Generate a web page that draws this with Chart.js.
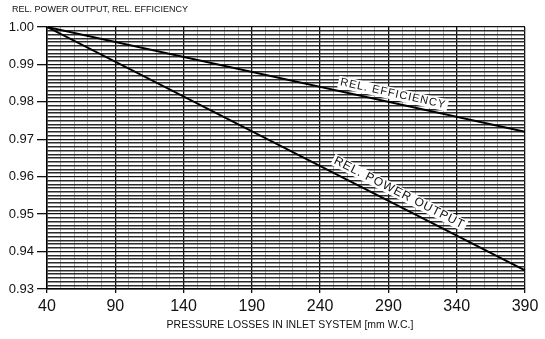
<!DOCTYPE html>
<html>
<head>
<meta charset="utf-8">
<script src="https://cdn.jsdelivr.net/npm/chart.js@4"></script>
<style>
  html, body { margin: 0; padding: 0; background: #fff; }
  #wrap { width: 545px; height: 339px; position: relative; }
</style>
</head>
<body>
<div id="wrap"><canvas id="lossChart"></canvas></div>
<script>
// valores
const pressureLoss = [40, 390];
const relEfficiency = [1.000, 0.972];
const relPowerOutput = [1.000, 0.935];
const xTickLabels = [40, 90, 140, 190, 240, 290, 340, 390];
const yTickLabels = [0.93, 0.94, 0.95, 0.96, 0.97, 0.98, 0.99, 1.00];
const lineLabels = ["REL. EFFICIENCY", "REL. POWER OUTPUT"];
const yTitle = "REL. POWER OUTPUT, REL. EFFICIENCY";
const xTitle = "PRESSURE LOSSES IN INLET SYSTEM [mm W.C.]";

const isMajorY = v => Math.round(v * 1000) % 10 === 0;
const isMajorX = v => xTickLabels.includes(Math.round(v));

// textos sobre as linhas e títulos
const textPlugin = {
  id: "textPlugin",
  afterDatasetsDraw(chart) {
    const ctx = chart.ctx;
    const xs = chart.scales.x, ys = chart.scales.y;
    const placements = [
      { ds: 0, at: 292, off: 9, font: "11px 'Liberation Sans', Arial" },
      { ds: 1, at: 294, off: 12, font: "12px 'Liberation Sans', Arial" }
    ];
    placements.forEach((p, i) => {
      const data = chart.data.datasets[p.ds].data;
      const a = data[0], b = data[data.length - 1];
      const x1 = xs.getPixelForValue(a.x), y1 = ys.getPixelForValue(a.y);
      const x2 = xs.getPixelForValue(b.x), y2 = ys.getPixelForValue(b.y);
      const ang = Math.atan2(y2 - y1, x2 - x1);
      const t = (p.at - a.x) / (b.x - a.x);
      const px = x1 + (x2 - x1) * t, py = y1 + (y2 - y1) * t;
      ctx.save();
      ctx.translate(px + Math.sin(ang) * p.off, py - Math.cos(ang) * p.off);
      ctx.rotate(ang);
      ctx.font = p.font;
      ctx.letterSpacing = "1px";
      ctx.textAlign = "center";
      ctx.textBaseline = "middle";
      const w = ctx.measureText(lineLabels[i]).width;
      ctx.fillStyle = "#fff";
      ctx.fillRect(-w / 2 - 2, -6, w + 4, 12);
      ctx.fillStyle = "#111";
      ctx.fillText(lineLabels[i], 0, 0);
      ctx.restore();
    });
  },
  afterDraw(chart) {
    const ctx = chart.ctx;
    ctx.save();
    ctx.fillStyle = "#111";
    ctx.textBaseline = "middle";
    ctx.font = "9px 'Liberation Sans', Arial";
    ctx.textAlign = "left";
    ctx.fillText(yTitle, 12, 10);
    ctx.font = "10.5px 'Liberation Sans', Arial";
    ctx.textAlign = "center";
    ctx.fillText(xTitle, 290, 325);
    ctx.restore();
  }
};

const chartCtx = document.getElementById("lossChart").getContext("2d");
const lossChart = new Chart(chartCtx, {
  type: "line",
  data: {
    datasets: [{
      label: lineLabels[0],
      data: pressureLoss.map((x, i) => ({ x: x, y: relEfficiency[i] })),
      borderColor: "#000",
      borderWidth: 2,
      pointRadius: 0,
      tension: 0
    }, {
      label: lineLabels[1],
      data: pressureLoss.map((x, i) => ({ x: x, y: relPowerOutput[i] })),
      borderColor: "#000",
      borderWidth: 2,
      pointRadius: 0,
      tension: 0
    }]
  },
  options: {
    responsive: true,
    maintainAspectRatio: false,
    animation: false,
    layout: { padding: { left: 0, right: 20, top: 27, bottom: 0 } },
    plugins: {
      legend: { display: false },
      tooltip: { enabled: false }
    },
    scales: {
      x: {
        type: "linear",
        min: xTickLabels[0],
        max: xTickLabels[xTickLabels.length - 1],
        afterFit: s => { s.height = 50; },
        border: { display: true, color: "#000", width: 1.5 },
        grid: {
          color: c => isMajorX(c.tick.value) ? "#111" : "#999",
          lineWidth: c => isMajorX(c.tick.value) ? 1.3 : 0.8,
          tickLength: 4,
          tickColor: c => isMajorX(c.tick.value) ? "#111" : "rgba(0,0,0,0)"
        },
        ticks: {
          stepSize: 10,
          autoSkip: false,
          maxRotation: 0,
          padding: 4,
          color: "#111",
          font: { family: "'Liberation Sans Narrow', 'Liberation Sans', Arial", size: 16 },
          callback: v => isMajorX(v) ? String(Math.round(v)) : ""
        }
      },
      y: {
        min: yTickLabels[0],
        max: yTickLabels[yTickLabels.length - 1],
        afterFit: s => { s.width = 47; },
        border: { display: true, color: "#000", width: 1.5 },
        grid: {
          color: c => isMajorY(c.tick.value) ? "#111" : "#2a2a2a",
          lineWidth: c => isMajorY(c.tick.value) ? 1.3 : 1.4,
          tickLength: 10,
          tickColor: c => isMajorY(c.tick.value) ? "#111" : "rgba(0,0,0,0)"
        },
        ticks: {
          stepSize: 0.001,
          autoSkip: false,
          padding: 3,
          color: "#111",
          font: { family: "'Liberation Sans', Arial", size: 13 },
          callback: v => isMajorY(v) ? v.toFixed(2) : ""
        }
      }
    }
  },
  plugins: [textPlugin]
});
</script>
</body>
</html>
